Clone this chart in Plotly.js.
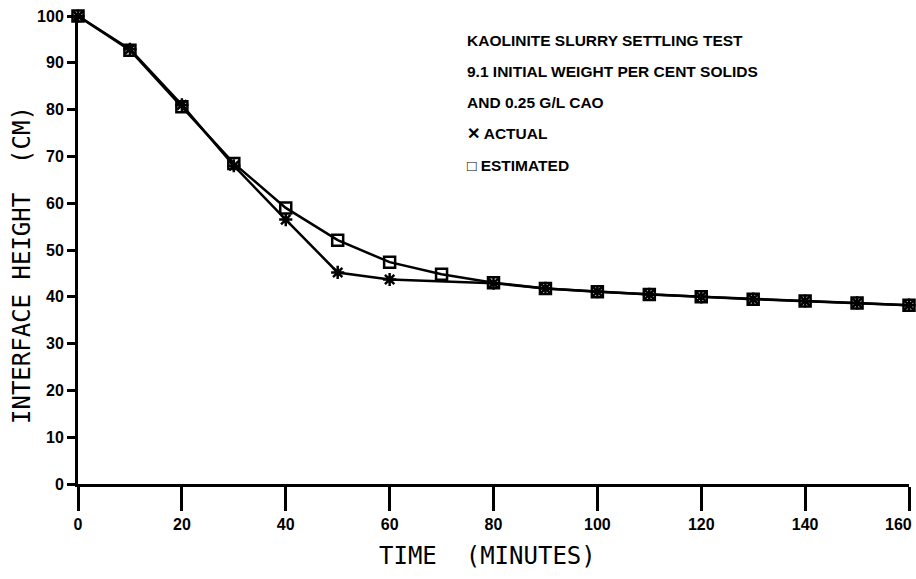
<!DOCTYPE html>
<html>
<head>
<meta charset="utf-8">
<script src="https://cdn.plot.ly/plotly-3.0.1.min.js"></script>
<style>html,body{margin:0;padding:0;background:#fff}#chart{width:916px;height:579px}</style>
</head>
<body>
<div id="chart"></div>
<script>
// Data
const timeEstimated = [0, 10, 20, 30, 40, 50, 60, 70, 80, 90, 100, 110, 120, 130, 140, 150, 160];
const heightEstimated = [100, 92.7, 80.6, 68.5, 59.0, 52.1, 47.4, 44.8, 43.0, 41.8, 41.1, 40.5, 40.0, 39.5, 39.1, 38.7, 38.2];
const timeActual = [0, 10, 20, 30, 40, 50, 60, 80, 90, 100, 110, 120, 130, 140, 150, 160];
const heightActual = [100, 92.9, 81.0, 68.0, 56.5, 45.2, 43.7, 42.9, 41.8, 41.1, 40.5, 40.0, 39.5, 39.1, 38.7, 38.2];
const xTicks = [0, 20, 40, 60, 80, 100, 120, 140, 160];
const yTicks = [0, 10, 20, 30, 40, 50, 60, 70, 80, 90, 100];
const noteLines = [
  "KAOLINITE SLURRY SETTLING TEST",
  "9.1 INITIAL WEIGHT PER CENT SOLIDS",
  "AND 0.25 G/L CAO",
  "✕ ACTUAL",
  "□ ESTIMATED"
];
const xTitle = "TIME  (MINUTES)";
const yTitle = "INTERFACE HEIGHT  (CM)";

const tickFont = {family: "Liberation Sans, Arial, sans-serif", size: 16, color: "#000", weight: "bold"};
const noteFont = {family: "Liberation Sans, Arial, sans-serif", size: 15.5, color: "#000", weight: "bold"};
const titleFont = {family: "DejaVu Sans Mono, Liberation Mono, monospace", size: 24, color: "#000"};

const traces = [
  {
    x: timeEstimated, y: heightEstimated, type: "scatter", mode: "lines+markers",
    name: "ESTIMATED", cliponaxis: false,
    line: {color: "#000", width: 2.5},
    marker: {symbol: "square-open", size: 11, color: "#000", line: {width: 2.5, color: "#000"}}
  },
  {
    x: timeActual, y: heightActual, type: "scatter", mode: "lines+markers",
    name: "ACTUAL", cliponaxis: false,
    line: {color: "#000", width: 2.5},
    marker: {symbol: "asterisk-open", size: 11, color: "#000", line: {width: 2.5, color: "#000"}}
  }
];

const annotations = noteLines.map((t, i) => ({
  text: t, xref: "paper", yref: "paper", x: (465 - 78) / 831, y: (484 - (40 + i * 31.3)) / 468,
  xanchor: "left", yanchor: "middle", showarrow: false, font: noteFont
}));
annotations.push({
  text: xTitle, xref: "paper", yref: "paper", x: (487 - 78) / 831, y: (484 - 556) / 468,
  xanchor: "center", yanchor: "middle", showarrow: false, font: titleFont
});
annotations.push({
  text: yTitle, xref: "paper", yref: "paper", x: (22 - 78) / 831, y: (484 - 265) / 468,
  xanchor: "center", yanchor: "middle", showarrow: false, textangle: -90, font: titleFont
});
// last x tick label sits at the right edge; draw it right-aligned so it is not clipped
const lastTick = xTicks[xTicks.length - 1];
annotations.push({
  text: String(lastTick), xref: "x", yref: "paper", x: lastTick, y: 0, yshift: -40,
  xanchor: "right", xshift: 5, yanchor: "middle", showarrow: false, font: tickFont
});

const layout = {
  width: 916, height: 579,
  margin: {l: 78, r: 7, t: 16, b: 95},
  paper_bgcolor: "#fff", plot_bgcolor: "#fff",
  showlegend: false,
  xaxis: {
    range: [0, 160], tickvals: xTicks, ticktext: xTicks.map(v => v === lastTick ? "" : String(v)),
    showgrid: false, zeroline: false, showline: true, linecolor: "#000", linewidth: 3,
    ticks: "outside", ticklen: 24, tickwidth: 3, tickcolor: "#000", tickfont: tickFont
  },
  yaxis: {
    range: [0, 100], tickvals: yTicks, ticktext: yTicks.map(String),
    showgrid: false, zeroline: false, showline: true, linecolor: "#000", linewidth: 3,
    ticks: "outside", ticklen: 8, tickwidth: 3, tickcolor: "#000", tickfont: tickFont
  },
  annotations: annotations
};

Plotly.newPlot("chart", traces, layout, {staticPlot: true});
</script>
</body>
</html>
